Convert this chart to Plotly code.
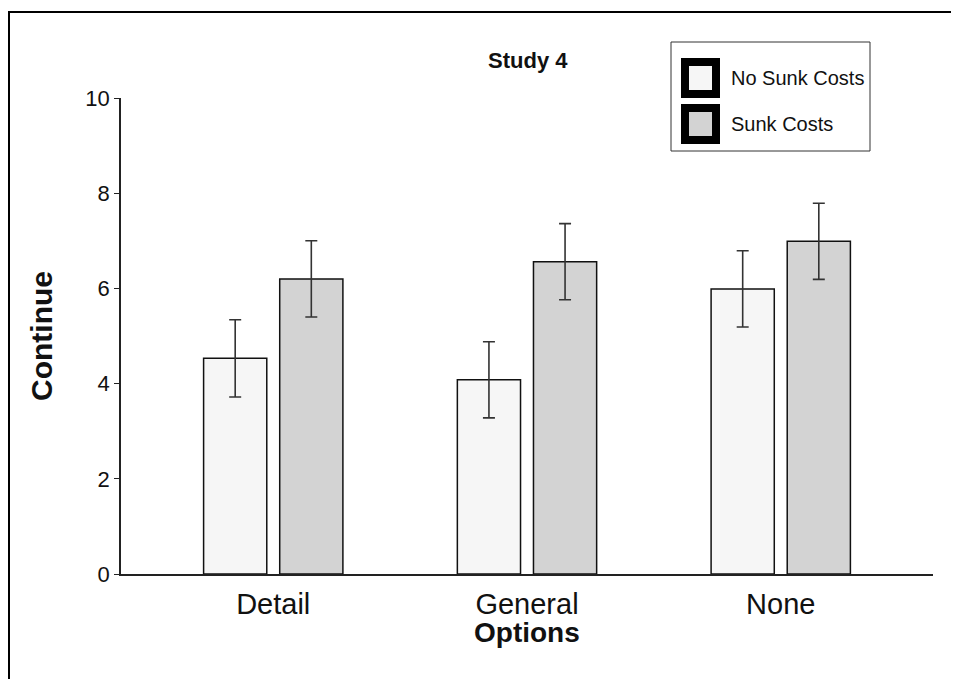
import plotly.graph_objects as go

categories = ["Detail", "General", "None"]
series_names = ["No Sunk Costs", "Sunk Costs"]
no_sunk = [4.53, 4.08, 5.99]
no_sunk_err = [0.81, 0.80, 0.80]
sunk = [6.20, 6.56, 6.99]
sunk_err = [0.80, 0.80, 0.80]
y_ticks = [0, 2, 4, 6, 8, 10]

FONT = "Liberation Sans, Arial, sans-serif"
fills = ["#f6f6f6", "#d3d3d3"]

fig = go.Figure()
for name, vals, errs, col in zip(series_names, [no_sunk, sunk], [no_sunk_err, sunk_err], fills):
    fig.add_trace(go.Bar(
        x=categories, y=vals, name=name, showlegend=False,
        marker=dict(color=col, line=dict(color="#111111", width=1.5)),
        error_y=dict(type="data", array=errs, visible=True, color="#333333", thickness=1.6, width=6),
    ))

OFF = 8  # page body margin
W, H = 959 - OFF, 679 - OFF
# target pixel positions in the window
PL, PR, PT, PB = 121, 933, 98, 574
L, T = PL - OFF, PT - OFF
R = W - (PR - OFF)
B = H - (PB - OFF)
pw, ph = PR - PL, PB - PT

def px2x(p):
    return (p - PL) / pw

def px2y(p):
    return (PB - p) / ph

shapes = []
# outer frame
shapes.append(dict(type="rect", xref="paper", yref="paper",
                   x0=px2x(9), x1=px2x(1000), y0=px2y(12), y1=px2y(720),
                   line=dict(color="#000000", width=2), fillcolor="rgba(0,0,0,0)", layer="below"))
# legend box
shapes.append(dict(type="rect", xref="paper", yref="paper",
                   x0=px2x(671), x1=px2x(870), y0=px2y(42), y1=px2y(151),
                   line=dict(color="#333333", width=1), fillcolor="white"))
annotations = []
for i, (name, col) in enumerate(zip(series_names, fills)):
    yc = 78 + i * 46
    shapes.append(dict(type="rect", xref="paper", yref="paper",
                       x0=px2x(685), x1=px2x(716), y0=px2y(yc - 16), y1=px2y(yc + 16),
                       line=dict(color="#000000", width=8), fillcolor=col))
    annotations.append(dict(text=name, xref="paper", yref="paper", x=px2x(729), y=px2y(yc),
                            xanchor="left", yanchor="middle", showarrow=False,
                            font=dict(family=FONT, size=20, color="#111111")))

annotations.append(dict(text="<b>Study 4</b>", xref="paper", yref="paper", x=px2x(528), y=px2y(60),
                        xanchor="center", yanchor="middle", showarrow=False,
                        font=dict(family=FONT, size=22, color="#111111")))
annotations.append(dict(text="<b>Continue</b>", xref="paper", yref="paper", x=px2x(41), y=px2y(336),
                        xanchor="center", yanchor="middle", showarrow=False, textangle=-90,
                        font=dict(family=FONT, size=30, color="#111111")))
annotations.append(dict(text="<b>Options</b>", xref="paper", yref="paper", x=px2x(527), y=px2y(632),
                        xanchor="center", yanchor="middle", showarrow=False,
                        font=dict(family=FONT, size=28, color="#111111")))

fig.update_layout(
    width=W, height=H,
    margin=dict(l=L, r=R, t=T, b=B, pad=0),
    paper_bgcolor="white", plot_bgcolor="white",
    barmode="group", bargap=0.40, bargroupgap=0.17,
    showlegend=False,
    shapes=shapes, annotations=annotations,
    font=dict(family=FONT, color="#111111"),
)
fig.update_xaxes(range=[-0.6, 2.6], showline=True, linecolor="#222222", linewidth=1.5,
                 ticks="", showgrid=False, zeroline=False, ticklabelstandoff=3,
                 tickfont=dict(family=FONT, size=29, color="#111111"))
fig.update_yaxes(range=[0, 10], tickvals=y_ticks, showline=True, linecolor="#222222", linewidth=1.5,
                 ticks="outside", ticklen=5, tickwidth=1, tickcolor="#222222",
                 showgrid=False, zeroline=False,
                 tickfont=dict(family=FONT, size=22, color="#111111"))

fig.write_html("out.html")
